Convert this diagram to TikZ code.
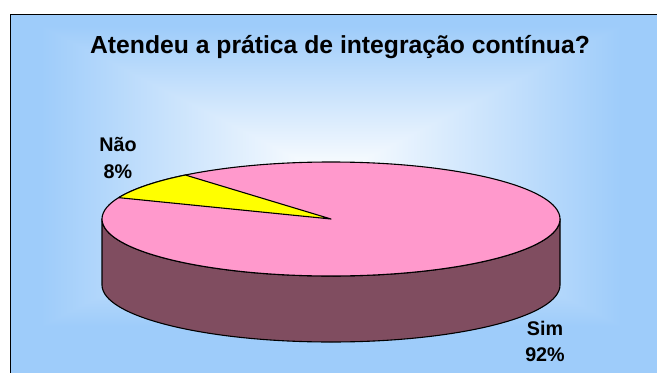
\documentclass[tikz,border=0pt]{standalone}
\usepackage{fontspec}
\setmainfont{Liberation Sans}
\usetikzlibrary{calc}
\definecolor{piepink}{RGB}{255,153,204}
\definecolor{pieside}{RGB}{128,77,96}
\definecolor{pieyellow}{RGB}{255,255,0}
\pgfdeclarefunctionalshading{bgshade}{\pgfpointorigin}{\pgfpoint{647bp}{357bp}}{}{%
 196 sub abs 150 div exch 321 sub abs 290 div 2 copy lt {exch} if pop
 dup 1 gt {pop 1} if
 dup 0.38 mul 1 exch sub exch dup 0.2 mul 1 exch sub exch 0.02 mul 1 exch sub}
\tikzset{
  outline/.style={draw=black, line width=1.1bp, line join=round},
  charttitle/.style={font=\bfseries\fontsize{24.8}{28}\selectfont, inner sep=0pt},
  slicelabel/.style={font=\bfseries\fontsize{19.8}{26.5}\selectfont, align=center, inner sep=0pt}
}
\begin{document}
\begin{tikzpicture}[x=1bp,y=1bp]
\useasboundingbox (0,0) rectangle (657,372);
\fill[white] (0,0) rectangle (657,372);
\node[anchor=south west, inner sep=0pt, outer sep=0pt] (bg) at (10,0) {\pgfuseshading{bgshade}};
\draw[black, line width=1bp] (10.5,-5) -- (10.5,357.5) -- (665,357.5);
% title
\node[charttitle, anchor=base] (title) at (340,319) {Atendeu a prática de integração contínua?};
% pie
\coordinate (c) at (331,153);
\coordinate (cb) at (331,87);
\path[outline, fill=pieside]
  ($(c)+(-229,0)$) -- ($(cb)+(-229,0)$)
  arc[start angle=180, end angle=360, x radius=229bp, y radius=57bp]
  -- ($(c)+(229,0)$)
  arc[start angle=0, end angle=-180, x radius=229bp, y radius=57bp] -- cycle;
\path[outline, fill=piepink] (c) ellipse[x radius=229bp, y radius=57bp];
\path[outline, fill=pieyellow] (c) -- ($(c)+(129.5:229 and 57)$)
  arc[start angle=129.5, end angle=158, x radius=229bp, y radius=57bp] -- cycle;
% labels
\node[slicelabel] (nao) at (118,214) {Não\\8\%};
\node[slicelabel] (sim) at (545,30.5) {Sim\\92\%};
\end{tikzpicture}
\end{document}
